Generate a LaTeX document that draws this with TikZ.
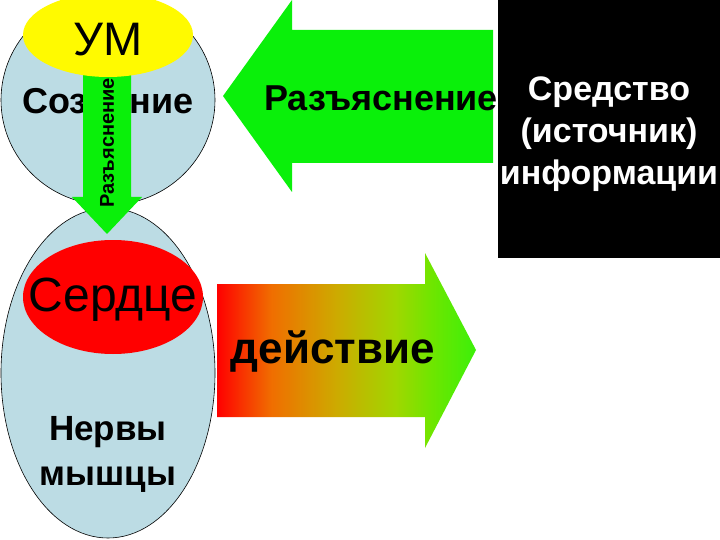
\documentclass[tikz,border=0pt]{standalone}
\usepackage{fontspec}
\setmainfont{Liberation Sans}
\definecolor{lblue}{RGB}{188,220,228}
\definecolor{agreen}{RGB}{10,240,10}
\definecolor{ayellow}{RGB}{255,250,0}
\definecolor{gA}{RGB}{255,0,0}
\definecolor{gB}{RGB}{240,110,0}
\definecolor{gC}{RGB}{205,170,0}
\definecolor{gD}{RGB}{160,215,0}
\definecolor{gE}{RGB}{110,230,0}
\definecolor{gF}{RGB}{60,240,10}
\pgfdeclarehorizontalshading{actshade}{100bp}{color(0bp)=(gA); color(25bp)=(gA); color(35.5bp)=(gB); color(48bp)=(gC); color(59.5bp)=(gD); color(66.5bp)=(gE); color(75bp)=(gF); color(100bp)=(gF)}
\begin{document}
\begin{tikzpicture}[x=1pt,y=-1pt,
  txt/.style={font=\fontsize{36}{44}\selectfont\bfseries, inner sep=0pt, align=center},
  bigtxt/.style={font=\fontsize{48}{50}\selectfont, inner sep=0pt},
  smalltxt/.style={font=\fontsize{20}{22}\selectfont\bfseries, inner sep=0pt},
  oval/.style={fill=lblue, draw=black, line width=0.6pt}]
\useasboundingbox (0,0) rectangle (720,540);
\fill[white] (0,0) rectangle (720,540);
% ovals
\filldraw[oval] (108,100) ellipse [x radius=107pt, y radius=105pt];
\filldraw[oval] (108,373) ellipse [x radius=107pt, y radius=165pt];
\node[txt] (soz) at (108,101) {Сознание};
\fill[red] (113,297) ellipse [x radius=90pt, y radius=57pt];
\node[bigtxt] (serd) at (113,300) {Сердце};
\node[txt, font=\fontsize{35}{45}\selectfont\bfseries] (nerv) at (108,454) {Нервы\\мышцы};
% vertical arrow
\fill[agreen] (83,60) -- (131,60) -- (131,197) -- (142,197) -- (107,234) -- (72,197) -- (83,197) -- cycle;
\node[smalltxt, rotate=90] (razv) at (107,143) {Разъяснение};
\fill[ayellow] (108,35) ellipse [x radius=85pt, y radius=42pt];
\node[bigtxt, font=\fontsize{47}{50}\selectfont] (um) at (108,40) {УМ};
% left arrow
\fill[agreen] (223,96) -- (292,0) -- (292,30) -- (493,30) -- (493,163) -- (292,163) -- (292,192) -- cycle;
\node[txt] (razh) at (381,98) {Разъяснение};
% black box
\fill[black] (498,0) rectangle (720,258);
\node[txt, text=white, font=\fontsize{34}{42}\selectfont\bfseries] (sred) at (609,134) {Средство\\(источник)\\информации};
% gradient arrow
\shade[shading=actshade] (217,284) -- (425,284) -- (425,253) -- (476,350) -- (425,448) -- (425,417) -- (217,417) -- cycle;
\node[txt, font=\fontsize{44}{50}\selectfont\bfseries] (deis) at (333,352) {действие};
\end{tikzpicture}
\end{document}
